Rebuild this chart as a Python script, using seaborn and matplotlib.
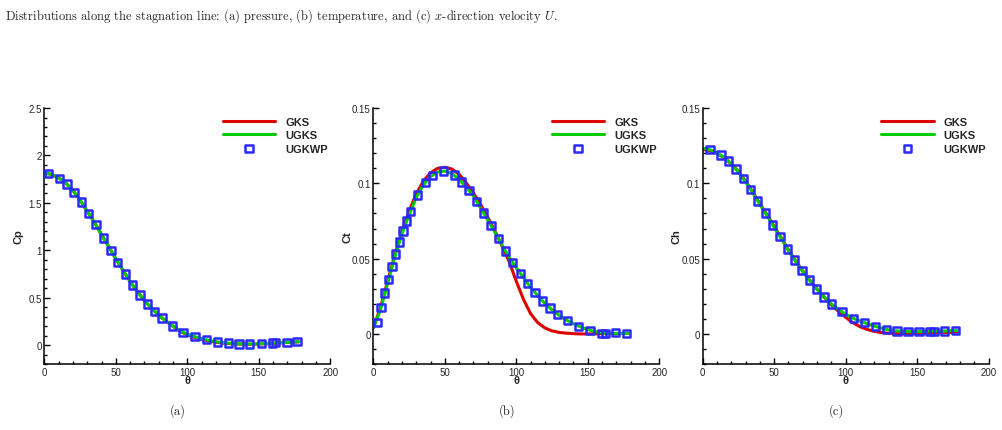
import numpy as np
import matplotlib
matplotlib.use('Agg')
import matplotlib.pyplot as plt
from matplotlib.ticker import MultipleLocator, FormatStrFormatter
import seaborn as sns

# theta positions of the continuous solutions
theta_line = [0, 5, 10, 15, 20, 25, 30, 35, 40, 45, 50, 55, 60, 65, 70, 75, 80, 85, 90,
              95, 100, 105, 110, 115, 120, 125, 130, 135, 140, 145, 150, 155, 160, 165,
              170, 175, 178]

# (a) pressure coefficient
cp_ugks = [1.815, 1.80, 1.765, 1.71, 1.63, 1.53, 1.41, 1.295, 1.165, 1.04, 0.91, 0.79,
           0.67, 0.565, 0.47, 0.39, 0.315, 0.255, 0.20, 0.15, 0.115, 0.09, 0.068, 0.05,
           0.036, 0.026, 0.019, 0.014, 0.012, 0.012, 0.014, 0.017, 0.021, 0.025, 0.029,
           0.033, 0.036]
cp_gks = [1.815, 1.80, 1.765, 1.71, 1.63, 1.53, 1.41, 1.295, 1.165, 1.04, 0.91, 0.79,
          0.67, 0.565, 0.47, 0.39, 0.315, 0.255, 0.198, 0.145, 0.108, 0.082, 0.06, 0.043,
          0.03, 0.021, 0.015, 0.011, 0.009, 0.009, 0.011, 0.014, 0.018, 0.023, 0.027,
          0.031, 0.034]
theta_cp_wp = [3.0, 10.5, 15.9, 20.8, 25.9, 30.8, 36.2, 41.3, 46.7, 51.3, 56.7, 61.8, 67.0,
               72.3, 77.2, 82.4, 89.8, 97.1, 105.5, 113.2, 121.1, 128.8, 136.1, 143.5,
               151.7, 159.4, 161.7, 169.7, 176.7]
cp_wp = [1.81, 1.76, 1.70, 1.61, 1.51, 1.39, 1.27, 1.13, 1.00, 0.874, 0.748, 0.632, 0.527,
         0.435, 0.355, 0.284, 0.20, 0.133, 0.088, 0.056, 0.032, 0.021, 0.011, 0.011, 0.014,
         0.021, 0.025, 0.028, 0.035]

# (b) Ct
ct_ugks = [0.004, 0.016, 0.0335, 0.051, 0.0665, 0.079, 0.0905, 0.099, 0.1045, 0.1075,
           0.1082, 0.1065, 0.1025, 0.0975, 0.0915, 0.0838, 0.0757, 0.0675, 0.059, 0.051,
           0.0438, 0.0375, 0.031, 0.0254, 0.0203, 0.016, 0.0124, 0.0093, 0.0068, 0.0046,
           0.0029, 0.0016, 0.0006, 0.0003, 0.0004, 0.0003, 0.0003]
ct_gks = [0.004, 0.0175, 0.035, 0.0525, 0.068, 0.0815, 0.093, 0.1015, 0.107, 0.110,
          0.1107, 0.1095, 0.106, 0.1003, 0.0935, 0.086, 0.0775, 0.0685, 0.0585, 0.048,
          0.035, 0.023, 0.0135, 0.0075, 0.004, 0.002, 0.001, 0.0005, 0.0002, 0.0, 0.0,
          0.0001, 0.0002, 0.0003, 0.0003, 0.0003, 0.0003]
theta_ct_wp = [3.0, 5.4, 7.9, 10.7, 13.1, 15.6, 18.2, 20.7, 23.3, 25.9, 31.0, 36.4, 41.3,
               49.0, 56.6, 61.8, 66.9, 72.3, 77.2, 82.3, 87.4, 92.5, 97.4, 103.0, 107.9,
               113.1, 118.4, 123.5, 128.9, 135.9, 143.6, 151.5, 159.9, 162.2, 169.5, 177.2]
ct_wp = [0.0077, 0.0175, 0.0272, 0.0361, 0.0447, 0.0531, 0.0611, 0.0684, 0.075, 0.0814,
         0.0923, 0.1004, 0.1053, 0.1082, 0.1055, 0.1009, 0.0954, 0.0881, 0.0803, 0.0721,
         0.0635, 0.0551, 0.0476, 0.0403, 0.0334, 0.0274, 0.0219, 0.0173, 0.0131, 0.0088,
         0.0051, 0.0024, 0.0002, 0.0002, 0.0009, 0.0002]

# (c) Ch
ch_ugks = [0.1232, 0.1224, 0.1202, 0.1172, 0.113, 0.1075, 0.101, 0.0938, 0.086, 0.0785,
           0.0708, 0.0632, 0.0553, 0.0481, 0.0414, 0.0353, 0.0296, 0.0244, 0.0199, 0.0163,
           0.013, 0.0105, 0.0086, 0.0068, 0.0052, 0.0038, 0.0027, 0.0021, 0.0017, 0.0015,
           0.0015, 0.0016, 0.0018, 0.0019, 0.002, 0.0022, 0.0022]
ch_gks = [0.1225, 0.1218, 0.1198, 0.117, 0.113, 0.1078, 0.1015, 0.0943, 0.0866, 0.0791,
          0.0714, 0.0638, 0.0558, 0.0486, 0.0418, 0.0356, 0.0297, 0.0243, 0.0193, 0.015,
          0.011, 0.0075, 0.0048, 0.003, 0.0017, 0.0009, 0.0005, 0.0003, 0.0002, 0.0002,
          0.0004, 0.0005, 0.0007, 0.0008, 0.001, 0.0011, 0.0012]
theta_ch_wp = [5.1, 12.8, 18.2, 23.3, 28.4, 33.6, 38.5, 43.8, 49.0, 54.1, 59.2, 64.3, 69.5,
               74.6, 79.7, 84.8, 90.0, 97.4, 105.4, 113.1, 120.7, 128.4, 135.9, 143.6,
               151.3, 159.0, 161.8, 169.2, 176.9]
ch_wp = [0.1223, 0.1188, 0.1148, 0.1095, 0.1033, 0.096, 0.0883, 0.0803, 0.0723, 0.0646,
         0.0564, 0.0491, 0.042, 0.0358, 0.0299, 0.0246, 0.0199, 0.015, 0.0104, 0.0075,
         0.0049, 0.0029, 0.002, 0.0015, 0.0015, 0.0018, 0.0018, 0.002, 0.0022]

sns.set_style('ticks')
plt.rcParams['font.family'] = ['Liberation Sans', 'DejaVu Sans']
plt.rcParams['mathtext.fontset'] = 'cm'

fig = plt.figure(figsize=(10.03, 4.31), dpi=100)

panels = [
    ('Cp', cp_gks, cp_ugks, theta_cp_wp, cp_wp, (-0.2, 2.5), 0.5, 0.1, 0.0442),
    ('Ct', ct_gks, ct_ugks, theta_ct_wp, ct_wp, (-0.02, 0.15), 0.05, 0.01, 0.3722),
    ('Ch', ch_gks, ch_ugks, theta_ch_wp, ch_wp, (-0.02, 0.15), 0.05, 0.01, 0.7006),
]

for name, gks, ugks, th_wp, wp, ylim, ymaj, ymin, left in panels:
    ax = fig.add_axes([left, 0.153, 0.2851, 0.594])
    sns.lineplot(x=theta_line, y=gks, ax=ax, color='#dd0000', lw=2.2, label='GKS')
    sns.lineplot(x=theta_line, y=ugks, ax=ax, color='#00cc00', lw=2.2, label='UGKS')
    ax.scatter(th_wp, wp, marker='s', s=28, facecolors='none', edgecolors='#2a2aff',
               linewidths=1.8, zorder=5, label='UGKWP')

    ax.set_xlim(0, 200)
    ax.set_ylim(*ylim)
    ax.xaxis.set_major_locator(MultipleLocator(50))
    ax.xaxis.set_minor_locator(MultipleLocator(10))
    ax.yaxis.set_major_locator(MultipleLocator(ymaj))
    ax.yaxis.set_minor_locator(MultipleLocator(ymin))
    ax.yaxis.set_major_formatter(FormatStrFormatter('%g'))
    ax.tick_params(which='both', direction='in', width=1, labelsize=7, pad=2, color='black')
    ax.tick_params(which='major', length=4)
    ax.tick_params(which='minor', length=2.5)
    sns.despine(ax=ax)
    for sp in ['left', 'bottom']:
        ax.spines[sp].set_linewidth(1.1)
        ax.spines[sp].set_color('black')

    ax.set_xlabel('θ', fontsize=8, fontweight='bold', labelpad=-1)
    ax.set_ylabel(name, fontsize=8, fontweight='bold')
    ax.yaxis.set_label_coords(-0.073, 0.5)

    ax.legend(loc='upper left', bbox_to_anchor=(0.625, 0.965), frameon=False,
              borderpad=0, borderaxespad=0, handlelength=4.7, handletextpad=0.9,
              labelspacing=0.3, scatterpoints=1, prop={'weight': 'bold', 'size': 8})

fig.text(0.005, 0.963,
         'Distributions along the stagnation line: (a) pressure, (b) temperature, '
         'and (c) $x$-direction velocity $U$.',
         family='cmr10', fontsize=9, va='center', ha='left')

for lab, xc in [('(a)', 178), ('(b)', 507), ('(c)', 836)]:
    fig.text(xc / 1003, 1 - 411 / 431, lab, family='cmr10', fontsize=9,
             ha='center', va='center')

fig.savefig('out.png', dpi=100)
